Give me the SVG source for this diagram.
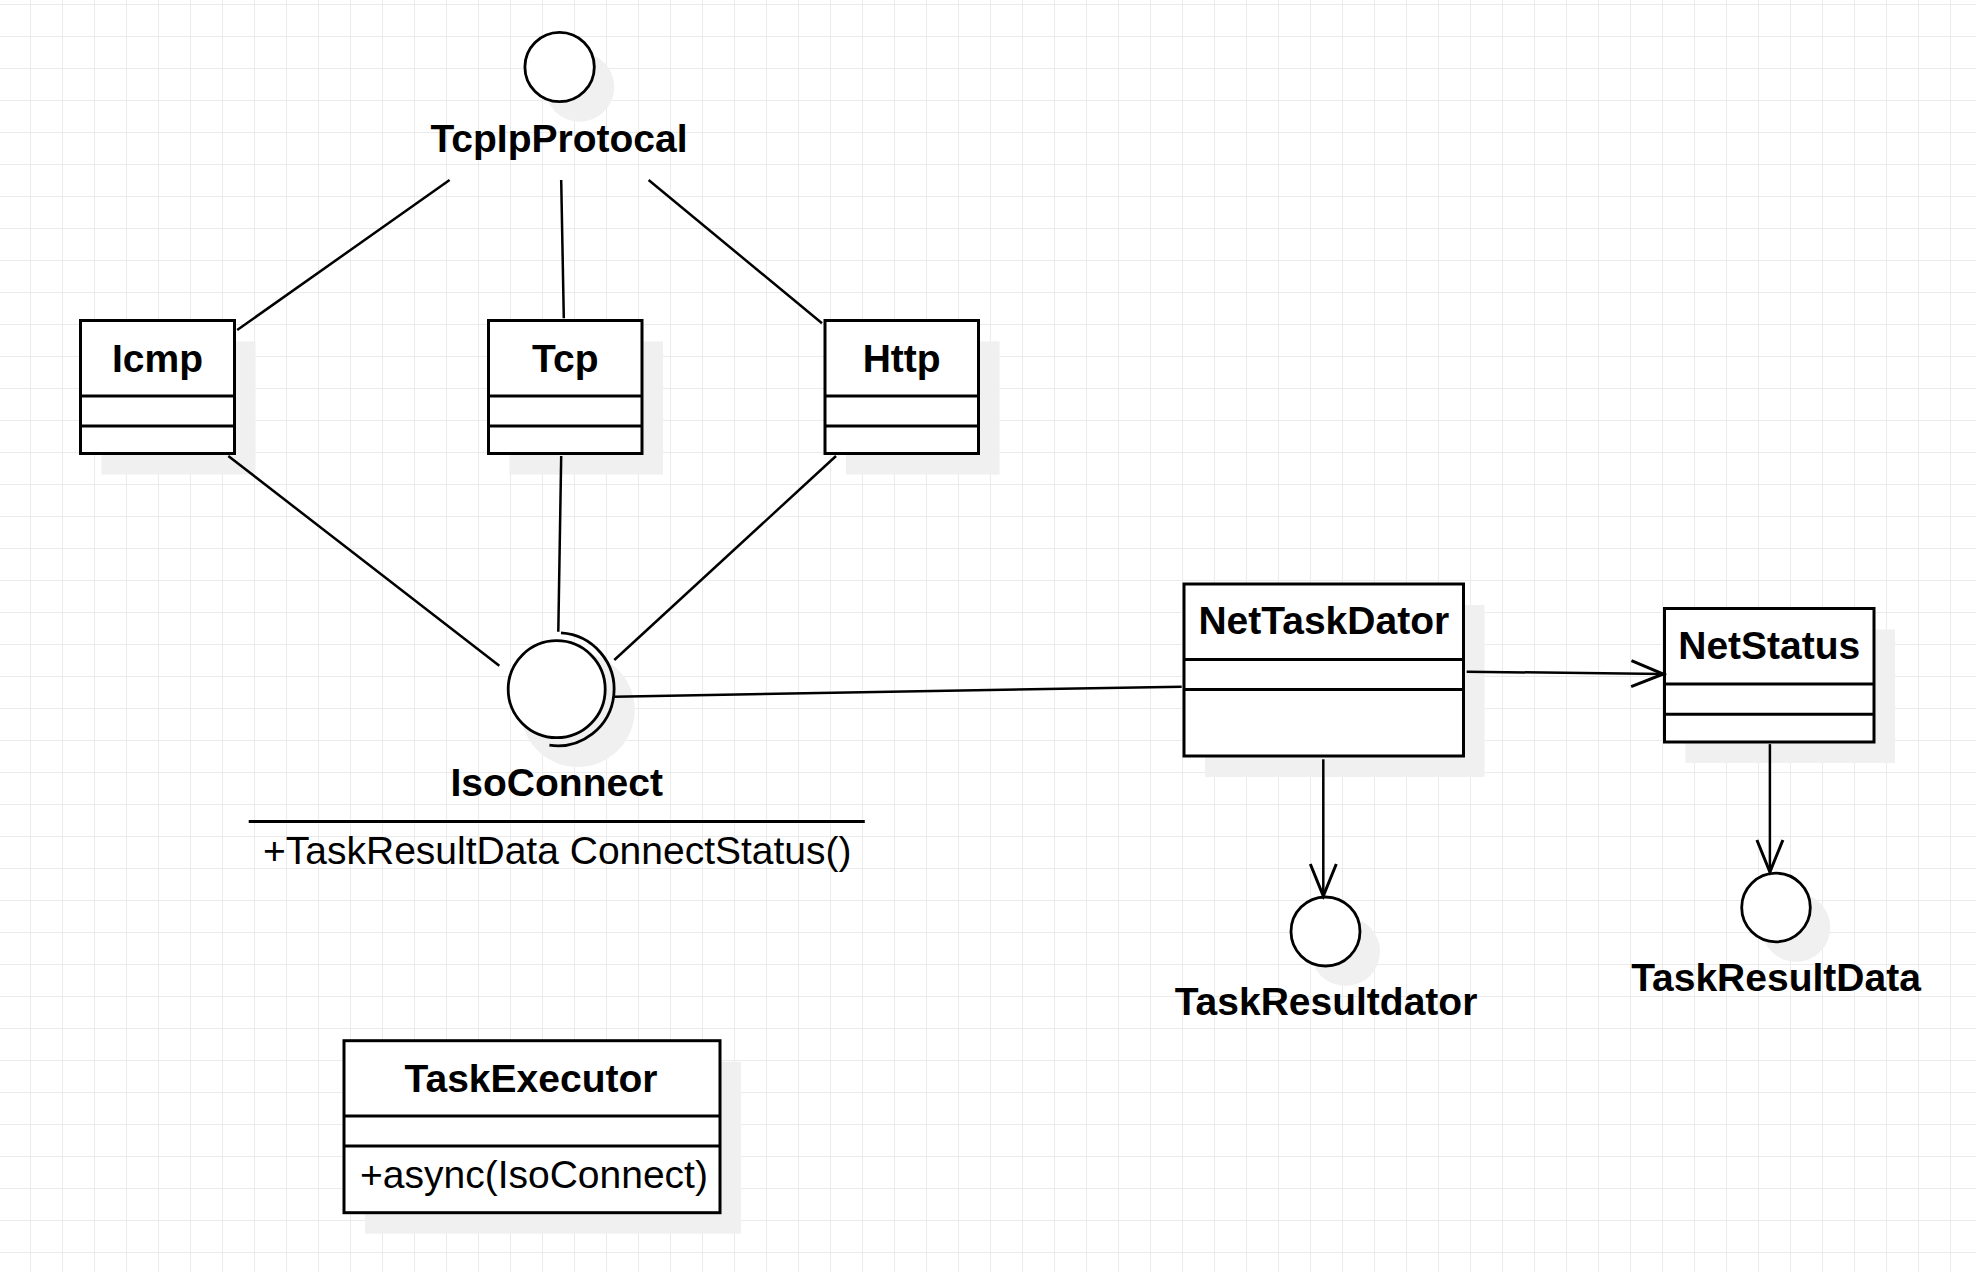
<svg xmlns="http://www.w3.org/2000/svg" width="1976" height="1272" viewBox="0 0 1976 1272">
<style>
.box{fill:#fff;stroke:#000;stroke-width:3}
.div{stroke:#000;stroke-width:3;fill:none}
.shadow{fill:#f0f0f0;stroke:none}
.circ{fill:#fff;stroke:#000;stroke-width:2.8}
.title{font-family:"Liberation Sans",Arial,sans-serif;font-size:39px;font-weight:bold;fill:#000;text-anchor:middle}
.member{font-family:"Liberation Sans",Arial,sans-serif;font-size:39px;fill:#000}
.conn{stroke:#000;stroke-width:2.5;fill:none}
</style>
<defs>
<pattern id="grid" patternUnits="userSpaceOnUse" x="30" y="4" width="32" height="32">
<path d="M0 0.5H32M0.5 0V32" stroke="#ebebeb" stroke-width="1" fill="none"/>
</pattern>
<marker id="open" markerUnits="userSpaceOnUse" markerWidth="40" markerHeight="36" viewBox="-36 -18 40 36" refX="0" refY="0" orient="auto">
<path d="M-32,-13 L0,0 L-32,13" fill="none" stroke="#000" stroke-width="3"/>
</marker>
</defs>
<rect width="1976" height="1272" fill="#fff"/>
<rect width="1976" height="1272" fill="url(#grid)"/>

<g id="TcpIpProtocal">
<circle class="shadow" cx="579.6" cy="87" r="34.7"/>
<circle class="circ" cx="559.6" cy="67" r="34.7"/>
<text class="title" x="559" y="151.7">TcpIpProtocal</text>
</g>

<g id="Icmp">
<rect class="shadow" x="101.5" y="341.5" width="154" height="133"/>
<rect class="box" x="80.5" y="320.5" width="154" height="133"/>
<line class="div" x1="80.5" y1="396" x2="234.5" y2="396"/>
<line class="div" x1="80.5" y1="426" x2="234.5" y2="426"/>
<text class="title" x="157.5" y="372">Icmp</text>
</g>

<g id="Tcp">
<rect class="shadow" x="509.5" y="341.5" width="153.5" height="133"/>
<rect class="box" x="488.5" y="320.5" width="153.5" height="133"/>
<line class="div" x1="488.5" y1="396" x2="642" y2="396"/>
<line class="div" x1="488.5" y1="426" x2="642" y2="426"/>
<text class="title" x="565.3" y="372">Tcp</text>
</g>

<g id="Http">
<rect class="shadow" x="846" y="341.5" width="153.5" height="133"/>
<rect class="box" x="825" y="320.5" width="153.5" height="133"/>
<line class="div" x1="825" y1="396" x2="978.5" y2="396"/>
<line class="div" x1="825" y1="426" x2="978.5" y2="426"/>
<text class="title" x="901.7" y="372">Http</text>
</g>

<g id="IsoConnect">
<circle class="shadow" cx="577.7" cy="710" r="57"/>
<circle class="circ" cx="556.7" cy="689.2" r="48.5"/>
<path d="M561,632.9 A56.5,56.5 0 1 1 549.4,745.2" fill="none" stroke="#000" stroke-width="2.8"/>
<text class="title" x="556.7" y="796.4">IsoConnect</text>
<line class="div" x1="248.7" y1="821.5" x2="864.8" y2="821.5"/>
<text class="member" x="263" y="864.3">+TaskResultData ConnectStatus()</text>
</g>

<g id="NetTaskDator">
<rect class="shadow" x="1205" y="605" width="279.5" height="172"/>
<rect class="box" x="1184" y="584" width="279.5" height="172"/>
<line class="div" x1="1184" y1="659.5" x2="1463.5" y2="659.5"/>
<line class="div" x1="1184" y1="689.5" x2="1463.5" y2="689.5"/>
<text class="title" x="1323.8" y="634">NetTaskDator</text>
</g>

<g id="NetStatus">
<rect class="shadow" x="1685.5" y="629.5" width="209.5" height="133.5"/>
<rect class="box" x="1664.5" y="608.5" width="209.5" height="133.5"/>
<line class="div" x1="1664.5" y1="684" x2="1874" y2="684"/>
<line class="div" x1="1664.5" y1="714.3" x2="1874" y2="714.3"/>
<text class="title" x="1769.3" y="659.3">NetStatus</text>
</g>

<g id="TaskResultdator">
<circle class="shadow" cx="1345.5" cy="951.5" r="34.5"/>
<circle class="circ" cx="1325.5" cy="931.5" r="34.5"/>
<text class="title" x="1326" y="1014.7">TaskResultdator</text>
</g>

<g id="TaskResultData">
<circle class="shadow" cx="1796" cy="927.5" r="34.3"/>
<circle class="circ" cx="1776" cy="907.5" r="34.3"/>
<text class="title" x="1776" y="991">TaskResultData</text>
</g>

<g id="TaskExecutor">
<rect class="shadow" x="365" y="1061.7" width="376" height="172"/>
<rect class="box" x="344" y="1040.7" width="376" height="172"/>
<line class="div" x1="344" y1="1116" x2="720" y2="1116"/>
<line class="div" x1="344" y1="1146" x2="720" y2="1146"/>
<text class="title" x="531" y="1091.5">TaskExecutor</text>
<text class="member" x="360" y="1188">+async(IsoConnect)</text>
</g>

<g id="connectors">
<line class="conn" x1="449.6" y1="180" x2="237.2" y2="330"/>
<line class="conn" x1="561.2" y1="180" x2="563.8" y2="318.3"/>
<line class="conn" x1="648.6" y1="180" x2="822" y2="323.3"/>
<line class="conn" x1="228.3" y1="456" x2="499.3" y2="665.7"/>
<line class="conn" x1="561.2" y1="456" x2="558.3" y2="631.7"/>
<line class="conn" x1="836" y1="456" x2="614.3" y2="660"/>
<line class="conn" x1="614.3" y1="696.7" x2="1181.7" y2="686.7"/>
<line class="conn" x1="1466.7" y1="671.7" x2="1663.3" y2="674" marker-end="url(#open)"/>
<line class="conn" x1="1323.3" y1="759.3" x2="1323.3" y2="896" marker-end="url(#open)"/>
<line class="conn" x1="1769.9" y1="744.1" x2="1769.9" y2="872" marker-end="url(#open)"/>
</g>
</svg>
